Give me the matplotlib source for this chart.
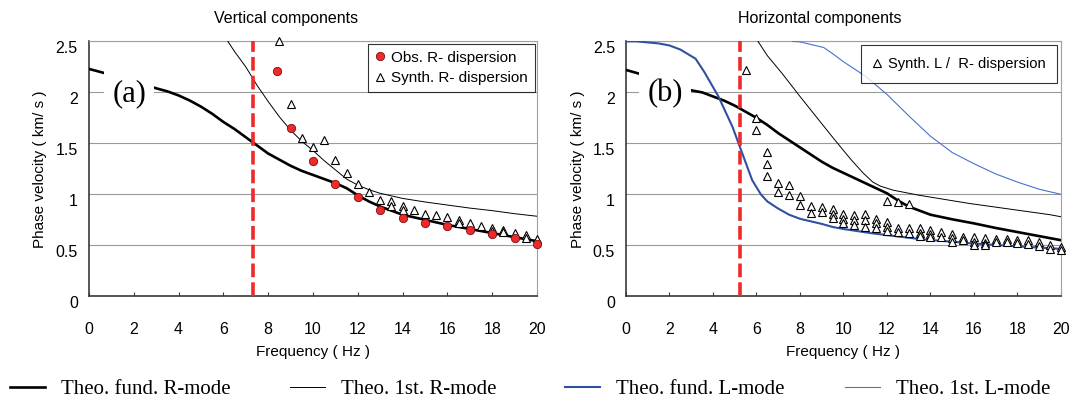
import numpy as np
import matplotlib
matplotlib.use('Agg')
import matplotlib.pyplot as plt
import matplotlib.transforms as mtransforms

plt.rcParams['font.family'] = ['Liberation Sans', 'DejaVu Sans']

# ---- data ---------------------------------------------------------------
# (a) vertical components
fund_r_a_f = [0, 0.85, 3, 3.5, 4, 4.5, 5, 5.5, 6, 6.5, 7, 7.5, 8, 8.5, 9,
              9.5, 10, 10.5, 11, 11.5, 12, 12.5, 13, 13.5, 14, 15, 16, 17,
              18, 19, 20]
fund_r_a_v = [2.23, 2.18, 2.04, 2.01, 1.97, 1.92, 1.86, 1.79, 1.71, 1.64,
              1.56, 1.48, 1.40, 1.34, 1.28, 1.23, 1.19, 1.15, 1.11, 1.06,
              0.99, 0.93, 0.88, 0.84, 0.80, 0.75, 0.70, 0.66, 0.62, 0.58,
              0.54]
first_r_a_f = [6.2, 6.5, 7, 7.5, 8, 8.5, 9, 9.5, 10, 10.5, 11, 11.5, 12,
               12.5, 13, 14, 15, 16, 17, 18, 19, 20]
first_r_a_v = [2.5, 2.40, 2.25, 2.07, 1.91, 1.76, 1.63, 1.52, 1.43, 1.33,
               1.24, 1.15, 1.09, 1.045, 1.01, 0.96, 0.925, 0.895, 0.865,
               0.84, 0.81, 0.785]
obs_f = [8.4, 9, 10, 11, 12, 13, 14, 15, 16, 17, 18, 19, 20]
obs_v = [2.21, 1.65, 1.33, 1.10, 0.97, 0.85, 0.77, 0.72, 0.69, 0.65, 0.61,
         0.57, 0.51]
syn_a_f = [8.5, 9, 9.5, 10, 10.5, 11, 11.5, 12, 12.5, 13, 13.5, 13.5, 14, 14,
           14.5, 15, 15.5, 16, 16.5, 16.5, 17, 17.5, 18, 18, 18.5, 18.5, 19,
           19.5, 19.5, 20]
syn_a_v = [2.50, 1.89, 1.55, 1.46, 1.53, 1.34, 1.21, 1.10, 1.02, 0.94, 0.93,
           0.89, 0.885, 0.85, 0.85, 0.81, 0.80, 0.78, 0.75, 0.72, 0.715, 0.69,
           0.67, 0.64, 0.65, 0.63, 0.62, 0.60, 0.575, 0.565]
cut_a = 7.3

# (b) horizontal components
fund_r_b_f = [0, 0.66, 3, 3.5, 4, 4.5, 5, 5.5, 6, 6.5, 7, 7.5, 8, 8.5, 9,
              9.5, 10, 10.5, 11, 11.5, 12, 12.5, 13, 13.5, 14, 15, 16, 17,
              18, 19, 20]
fund_r_b_v = [2.22, 2.18, 2.02, 2.0, 1.96, 1.92, 1.87, 1.81, 1.75, 1.68,
              1.60, 1.53, 1.46, 1.39, 1.32, 1.26, 1.21, 1.16, 1.11, 1.06,
              1.01, 0.94, 0.88, 0.84, 0.80, 0.755, 0.715, 0.67, 0.63, 0.59,
              0.55]
first_r_b_f = [6.07, 6.5, 7.2, 8.0, 8.75, 9.5, 10.0, 10.35, 10.9, 11.35,
               11.7, 12.3, 13.5, 15.8, 19.5, 20]
first_r_b_v = [2.5, 2.36, 2.18, 1.96, 1.76, 1.56, 1.43, 1.34, 1.21, 1.12,
               1.08, 1.04, 0.99, 0.91, 0.80, 0.78]
fund_l_f = [0, 0.5, 1.5, 2, 2.5, 3.2, 3.6, 4.25, 4.9, 5.35, 5.8, 6.2, 6.5,
            7, 7.5, 8, 9, 9.5, 10, 11.24, 12, 13.55, 15, 15.85, 18, 20]
fund_l_v = [2.5, 2.5, 2.48, 2.46, 2.42, 2.33, 2.20, 1.96, 1.66, 1.40, 1.14,
            1.0, 0.93, 0.86, 0.80, 0.76, 0.71, 0.68, 0.66, 0.62, 0.60, 0.56,
            0.535, 0.52, 0.49, 0.465]
first_l_f = [7.66, 8.0, 8.5, 9.09, 9.5, 10, 11, 12, 13, 14, 15, 16, 17, 18,
             19, 20]
first_l_v = [2.5, 2.495, 2.47, 2.44, 2.38, 2.30, 2.16, 1.98, 1.77, 1.57,
             1.41, 1.30, 1.20, 1.12, 1.05, 1.0]
syn_b = {
    5.5: [2.22], 6: [1.75, 1.63], 6.5: [1.42, 1.30, 1.18], 7: [1.11, 1.02],
    7.5: [1.09, 0.99], 8: [0.98, 0.895], 8.5: [0.89, 0.82], 9: [0.88, 0.83],
    9.5: [0.86, 0.81, 0.77], 10: [0.81, 0.76, 0.72], 10.5: [0.80, 0.75, 0.70],
    11: [0.81, 0.75, 0.68], 11.5: [0.76, 0.715, 0.67],
    12: [0.93, 0.73, 0.68, 0.64], 12.5: [0.92, 0.67, 0.63],
    13: [0.91, 0.67, 0.62], 13.5: [0.67, 0.625, 0.59], 14: [0.65, 0.61, 0.58],
    14.5: [0.63, 0.58], 15: [0.61, 0.57, 0.535], 15.5: [0.585, 0.55],
    16: [0.58, 0.535, 0.50], 16.5: [0.57, 0.525, 0.50], 17: [0.56, 0.53],
    17.5: [0.56, 0.53], 18: [0.55, 0.52], 18.5: [0.55, 0.515],
    19: [0.535, 0.49], 19.5: [0.50, 0.46], 20: [0.48, 0.45],
}
syn_b_f = [f for f, vs in syn_b.items() for _ in vs]
syn_b_v = [v for vs in syn_b.values() for v in vs]
cut_b = 5.26

xticks = list(range(0, 21, 2))
yticks = [0, 0.5, 1, 1.5, 2, 2.5]
ytick_labels = ['0', '0.5', '1', '1.5', '2', '2.5']

# ---- styles --------------------------------------------------------------
RED = '#ee2a2a'
BLUE = '#2f51a3'
LBLUE = '#4a72c8'
FS = 11
thick = dict(color='k', lw=1.9, zorder=3)
thin = dict(color='k', lw=0.7, zorder=3)
tri = dict(ls='none', marker='^', ms=6, mfc='white', mec='k', mew=0.8,
           zorder=5, clip_on=False)
dash = dict(color=RED, lw=2.6, dashes=(3.8, 1.4), zorder=4)

fig = plt.figure(figsize=(10.73, 4.03), dpi=100)
ax_a = fig.add_axes([0.0829, 0.2648, 0.4176, 0.6325])
ax_b = fig.add_axes([0.5834, 0.2648, 0.4054, 0.6325])


def style(ax):
    ax.set_xlim(0, 20)
    ax.set_ylim(0, 2.5)
    ax.set_xticks(xticks)
    ax.set_yticks(yticks)
    ax.set_yticklabels(ytick_labels)
    ax.yaxis.grid(True, color='#9a9a9a', lw=0.8)
    ax.set_axisbelow(True)
    for s in ['left', 'bottom']:
        ax.spines[s].set_color('#3a3a3a')
        ax.spines[s].set_linewidth(1.2)
    for s in ['top', 'right']:
        ax.spines[s].set_color('#a0a0a0')
        ax.spines[s].set_linewidth(0.8)
    ax.tick_params(axis='x', direction='in', length=3, pad=18.5,
                   labelsize=11.5, color='#3a3a3a')
    ax.tick_params(axis='y', length=0, pad=8, labelsize=11.5)
    off = mtransforms.ScaledTranslation(0, -0.06, fig.dpi_scale_trans)
    for lab in ax.get_yticklabels():
        lab.set_transform(lab.get_transform() + off)
    ax.set_xlabel('Frequency ( Hz )', fontsize=FS)
    ax.xaxis.set_label_coords(0.5, -0.19)
    ax.set_ylabel('Phase velocity ( km/ s )', fontsize=FS)
    ax.yaxis.set_label_coords(-0.094, 0.5)


style(ax_a)
style(ax_b)

# (a)
h_fr, = ax_a.plot(fund_r_a_f, fund_r_a_v, **thick)
h_1r, = ax_a.plot(first_r_a_f, first_r_a_v, **thin)
ax_a.axvline(cut_a, **dash)
h_obs, = ax_a.plot(obs_f, obs_v, ls='none', marker='o', ms=6, mfc=RED,
                   mec='#7a1010', mew=0.6, zorder=6, clip_on=False)
h_syn, = ax_a.plot(syn_a_f, syn_a_v, **tri)
ax_a.text(1.8, 1.99, '(a)', family='Liberation Serif', fontsize=22,
          ha='center', va='center', zorder=7,
          bbox=dict(facecolor='white', edgecolor='none', pad=6))
leg = ax_a.legend([h_obs, h_syn], ['Obs. R- dispersion', 'Synth. R- dispersion'],
                  loc='upper right', borderaxespad=0.15, fancybox=False,
                  edgecolor='k', fontsize=FS, handlelength=0.7,
                  handletextpad=0.35, labelspacing=0.45, borderpad=0.45)
leg.get_frame().set_linewidth(0.8)
fig.text(286 / 1073, 1 - 18 / 403, 'Vertical components', ha='center',
         va='center', fontsize=11.5)

# (b)
ax_b.plot(fund_r_b_f, fund_r_b_v, **thick)
ax_b.plot(first_r_b_f, first_r_b_v, **thin)
h_fl, = ax_b.plot(fund_l_f, fund_l_v, color=BLUE, lw=1.5, zorder=3)
h_1l, = ax_b.plot(first_l_f, first_l_v, color=LBLUE, lw=0.8, zorder=3)
ax_b.axvline(cut_b, **dash)
h_synb, = ax_b.plot(syn_b_f, syn_b_v, **tri)
ax_b.text(1.8, 1.99, '(b)', family='Liberation Serif', fontsize=22,
          ha='center', va='center', zorder=7,
          bbox=dict(facecolor='white', edgecolor='none', pad=6))
leg = ax_b.legend([h_synb], ['Synth. L /  R- dispersion'], loc='upper right',
                  borderaxespad=0.25, fancybox=False, edgecolor='k',
                  fontsize=10.6, handlelength=0.7, handletextpad=0.35,
                  borderpad=0.8)
leg.get_frame().set_linewidth(0.8)
fig.text(820 / 1073, 1 - 18 / 403, 'Horizontal components', ha='center',
         va='center', fontsize=11.5)

# bottom legend
items = [(h_fr, 'Theo. fund. R-mode', 10),
         (h_1r, 'Theo. 1st. R-mode', 290),
         (h_fl, 'Theo. fund. L-mode', 565),
         (h_1l, 'Theo. 1st. L-mode', 845)]
for h, lab, xp in items:
    fig.legend([h], [lab], loc='center left',
               bbox_to_anchor=(xp / 1073, 1 - 389 / 403), frameon=False,
               prop=dict(family='Liberation Serif', size=15),
               handlelength=1.7, handletextpad=0.75, borderpad=0,
               borderaxespad=0)

fig.savefig('out.png', dpi=100)
